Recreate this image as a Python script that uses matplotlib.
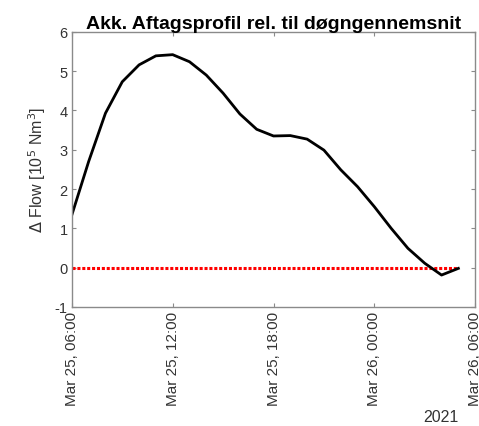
"""Accumulated offtake profile relative to the daily average."""
import matplotlib
matplotlib.use("Agg")
import matplotlib.pyplot as plt
import pandas as pd

plt.rcParams["font.family"] = ["Liberation Sans", "DejaVu Sans"]

# hourly values, Mar 25 06:00 .. Mar 26 05:00
start = "2021-03-25 06:00"
flow = [1.34, 2.70, 3.93, 4.73, 5.16, 5.39, 5.42, 5.24, 4.90, 4.44, 3.91, 3.52,
        3.35, 3.36, 3.27, 2.99, 2.49, 2.06, 1.55, 1.00, 0.49, 0.11, -0.19, -0.02]
zero_line = [0.0] * len(flow)
tick_times = ["2021-03-25 06:00", "2021-03-25 12:00", "2021-03-25 18:00",
              "2021-03-26 00:00", "2021-03-26 06:00"]
tick_labels = ["Mar 25, 06:00", "Mar 25, 12:00", "Mar 25, 18:00",
               "Mar 26, 00:00", "Mar 26, 06:00"]
yticks = [-1, 0, 1, 2, 3, 4, 5, 6]

times = pd.date_range(start, periods=len(flow), freq="h")
edge = "#8a8a8a"
text_c = "#333333"

fig = plt.figure(figsize=(4.79, 4.27), dpi=100)
ax = fig.add_axes([0.150, 0.279, 0.842, 0.644])

ax.plot(times, zero_line, color="red", lw=2.2, ls=(0, (1, 0.6)))
ax.plot(times, flow, color="black", lw=2.0)

ticks = pd.to_datetime(tick_times)
ax.set_xlim(ticks[0], ticks[-1])
ax.set_ylim(-1, 6)
ax.set_xticks(ticks)
ax.set_xticklabels(tick_labels, rotation=90, fontsize=11, color=text_c)
ax.set_yticks(yticks)
ax.set_yticklabels([str(v) for v in yticks], fontsize=10.5, color=text_c)
ax.tick_params(direction="in", top=True, right=True, length=3, width=0.8,
               color=edge, pad=3)
for sp in ax.spines.values():
    sp.set_color(edge)
    sp.set_linewidth(1.0)

ax.set_title("Akk. Aftagsprofil rel. til døgngennemsnit", fontsize=14,
             fontweight="bold", pad=3)
ax.set_ylabel(r"$\Delta$ Flow [10$^5$ Nm$^3$]", fontsize=11.5, color=text_c,
              labelpad=5)
fig.text(0.957, 0.012, "2021", fontsize=11.5, color=text_c, ha="right")

fig.savefig("out.png", dpi=100)
